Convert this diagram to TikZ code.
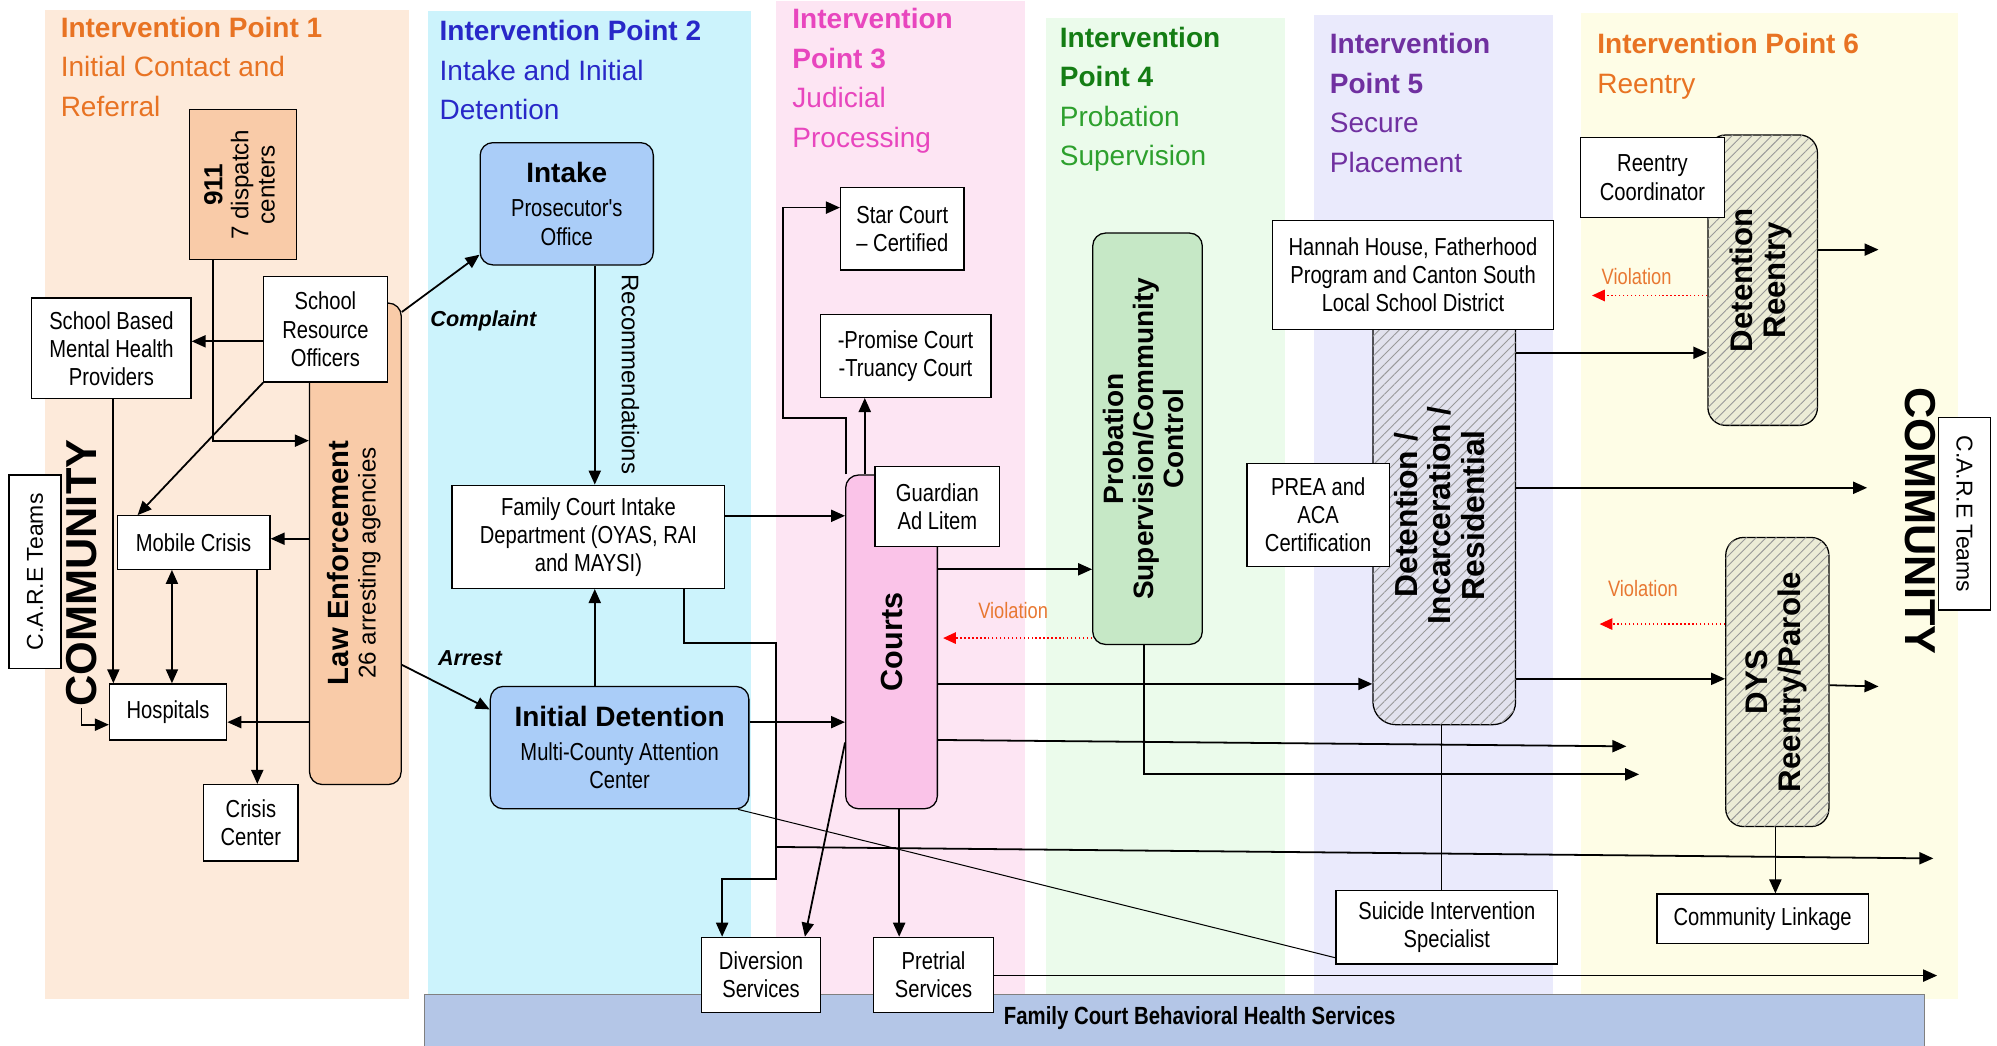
\documentclass[tikz,border=0pt]{standalone}
\usepackage{fontspec}
\setmainfont{Liberation Sans}
\newfontfamily\nar[FakeStretch=0.82]{Liberation Sans}
\usetikzlibrary{arrows.meta,patterns.meta}

\definecolor{bgone}{RGB}{253,234,218}
\definecolor{bgtwo}{RGB}{204,243,252}
\definecolor{bgthree}{RGB}{253,229,243}
\definecolor{bgfour}{RGB}{235,251,235}
\definecolor{bgfive}{RGB}{234,234,252}
\definecolor{bgsix}{RGB}{254,253,230}
\definecolor{peach}{RGB}{249,203,168}
\definecolor{skyblue}{RGB}{170,205,248}
\definecolor{courtpink}{RGB}{250,195,232}
\definecolor{probgreen}{RGB}{198,232,198}
\definecolor{hatchlav}{RGB}{226,226,238}
\definecolor{hatchyel}{RGB}{236,236,214}
\definecolor{barblue}{RGB}{180,198,231}
\definecolor{iporange}{RGB}{232,115,35}
\definecolor{ipblue}{RGB}{40,40,200}
\definecolor{ipmagenta}{RGB}{232,70,190}
\definecolor{ipgreen}{RGB}{20,125,20}
\definecolor{ipgreenlt}{RGB}{45,160,45}
\definecolor{ippurple}{RGB}{112,48,160}
\definecolor{violorange}{RGB}{232,120,50}

\newcommand\bodyfont{\nar\fontsize{19.3}{22}\selectfont}
\newcommand\vtxt[2]{\rotatebox{#1}{\begin{tabular}{@{}c@{}}#2\end{tabular}}}

\tikzset{
  wbox/.style={draw, line width=1pt, fill=white, align=center, inner sep=2pt, font=\bodyfont},
  wh/.style 2 args={minimum width=#1pt, minimum height=#2pt},
  rbox/.style={wbox, rounded corners=10pt, fill=#1},
  hatch/.style={draw, line width=1pt, rounded corners=14pt, fill=#1, inner sep=2pt,
    postaction={pattern={Lines[angle=45,distance=5.5pt,line width=0.7pt]}, pattern color=gray!80}},
  iptitle/.style={anchor=north west, align=left, inner sep=0pt, font=\fontsize{22}{31}\selectfont},
  tip/.tip={Triangle[length=11pt,width=9.5pt]},
  arr/.style={line width=1.4pt, -tip},
  arrboth/.style={line width=1.4pt, tip-tip},
  thinline/.style={line width=0.8pt},
  viol/.style={red, line width=1.1pt, dotted, -{Triangle[length=10pt,width=9pt]}},
  viotxt/.style={text=violorange, font=\nar\fontsize{17.5}{19}\selectfont, inner sep=0pt},
  edgetxt/.style={font=\bfseries\itshape\fontsize{17}{19}\selectfont, inner sep=0pt},
}

\begin{document}
\begin{tikzpicture}[x=1pt,y=-1pt]
\useasboundingbox (0,0) rectangle (1568,821);
\fill[white] (0,0) rectangle (1568,821);
\fill[bgone] (35,8) rectangle (321,784);
\fill[bgtwo] (336,9) rectangle (590,784);
\fill[bgthree] (609,1) rectangle (805,784);
\fill[bgfour] (821,14) rectangle (1009,781);
\fill[bgfive] (1032,12) rectangle (1219,781);
\fill[bgsix] (1241,10) rectangle (1537,784);

\node[iptitle, text=iporange] (ip1) at (47.5,13) {\textbf{Intervention Point 1}\\Initial Contact and\\Referral};
\node[iptitle, text=ipblue] (ip2) at (345,16) {\textbf{Intervention Point 2}\\Intake and Initial\\Detention};
\node[iptitle, text=ipmagenta] (ip3) at (622,6.5) {\textbf{Intervention}\\\textbf{Point 3}\\Judicial\\Processing};
\node[iptitle] (ip4) at (832,21) {\textcolor{ipgreen}{\textbf{Intervention}}\\\textcolor{ipgreen}{\textbf{Point 4}}\\\textcolor{ipgreenlt}{Probation}\\\textcolor{ipgreenlt}{Supervision}};
\node[iptitle, text=ippurple] (ip5) at (1044,26) {\textbf{Intervention}\\\textbf{Point 5}\\Secure\\Placement};
\node[iptitle, text=iporange] (ip6) at (1254,26) {\textbf{Intervention Point 6}\\Reentry};

\node[draw=gray, line width=0.8pt, fill=barblue, minimum width=1178pt, minimum height=42pt, inner sep=0pt,
  label={[xshift=20pt, yshift=3pt, font=\nar\bfseries\fontsize{19.5}{22}\selectfont]center:Family Court Behavioral Health Services}] (bar) at (922,802) {};

\node[wbox, wh={84}{118}, fill=peach, font=\fontsize{19}{20.5}\selectfont] (n911) at (191,145)
  {\vtxt{90}{{\bfseries\fontsize{20.5}{21}\selectfont 911}\\7 dispatch\\centers}};
\node[wbox, wh={125}{79}] (sbmh) at (87.5,273.5) {School Based\\Mental Health\\Providers};
\node[rbox=peach, wh={72}{378},
  label={[yshift=-15pt, font=\fontsize{19}{21.5}\selectfont]center:{\vtxt{90}{{\bfseries\fontsize{23}{24}\selectfont Law Enforcement}\\26 arresting agencies}}}] (law) at (279,427) {};
\node[wbox, wh={97}{83}] (sro) at (255.5,258.5) {School\\Resource\\Officers};
\node[wbox, wh={41}{152}, font=\fontsize{18}{20}\selectfont] (carel) at (27.5,449) {\rotatebox{90}{C.A.R.E Teams}};
\node[inner sep=1pt, font=\bfseries\fontsize{34}{36}\selectfont] (comml) at (64,450) {\rotatebox{90}{COMMUNITY}};
\node[wbox, wh={120}{42}] (mobile) at (152,426) {Mobile Crisis};
\node[wbox, wh={92}{44}] (hosp) at (132,559) {Hospitals};
\node[wbox, wh={74}{60}] (crisis) at (197,646) {Crisis\\Center};

\node[rbox=skyblue, wh={136}{96}] (intake) at (445,160)
  {{\normalfont\bfseries\fontsize{22}{24}\selectfont Intake}\\[5pt]Prosecutor's\\Office};
\node[font=\fontsize{18.8}{20}\selectfont, inner sep=0pt] (recom) at (495,294) {\rotatebox{-90}{Recommendations}};
\node[edgetxt] (cmpl) at (379.5,252) {Complaint};
\node[edgetxt] (arst) at (369,517) {Arrest};
\node[wbox, wh={214}{81}] (fci) at (462,421.5) {Family Court Intake\\Department (OYAS, RAI\\and MAYSI)};
\node[rbox=skyblue, wh={203}{96}] (initdet) at (486.5,587)
  {{\normalfont\bfseries\fontsize{22}{24}\selectfont Initial Detention}\\[5pt]Multi-County Attention\\Center};

\node[wbox, wh={97}{65}] (star) at (708.5,179.5) {Star Court\\– Certified};
\node[wbox, wh={134}{65}] (promise) at (711,279.5) {-Promise Court\\-Truancy Court};
\node[rbox=courtpink, wh={72}{262}, font=\bfseries\fontsize{24}{26}\selectfont] (courts) at (700,504) {\rotatebox{90}{Courts}};
\node[wbox, wh={98}{63}] (guardian) at (736,397.5) {Guardian\\Ad Litem};
\node[wbox, wh={93}{59}] (diversion) at (597.5,765.5) {Diversion\\Services};
\node[wbox, wh={94}{59}] (pretrial) at (733,765.5) {Pretrial\\Services};

\node[rbox=probgreen, wh={86}{323}, font=\bfseries\fontsize{22}{23.5}\selectfont] (prob) at (901,344.5)
  {\vtxt{90}{Probation\\Supervision/Community\\Control}};

\node[hatch=hatchlav, wh={112}{329}, rounded corners=18pt, font=\bfseries\fontsize{25}{26}\selectfont] (detinc) at (1134,404.5)
  {\vtxt{90}{Detention /\\Incarceration /\\Residential}};
\node[wbox, wh={221}{86}] (hannah) at (1109.5,216) {Hannah House, Fatherhood\\Program and Canton South\\Local School District};
\node[wbox, wh={112}{81}] (prea) at (1035,404.5) {PREA and\\ACA\\Certification};
\node[wbox, wh={174}{58}] (suicide) at (1136,728) {Suicide Intervention\\Specialist};

\node[hatch=hatchyel, wh={86}{228}, font=\bfseries\fontsize{24.5}{26}\selectfont] (detre) at (1384,220)
  {\vtxt{90}{Detention\\Reentry}};
\node[wbox, wh={113}{63}] (reco) at (1297.5,139.5) {Reentry\\Coordinator};
\node[hatch=hatchyel, wh={81}{227}, font=\bfseries\fontsize{24.5}{26}\selectfont] (dys) at (1395.5,535.5)
  {\vtxt{90}{DYS\\Reentry/Parole}};
\node[wbox, wh={166}{39}] (link) at (1384,721.5) {Community Linkage};
\node[inner sep=1pt, font=\bfseries\fontsize{34}{36}\selectfont] (commr) at (1508,409) {\rotatebox{-90}{COMMUNITY}};
\node[wbox, wh={41}{151}, font=\fontsize{18}{20}\selectfont] (carer) at (1542.5,403.5) {\rotatebox{-90}{C.A.R.E Teams}};

\node[viotxt] (vio1) at (795.5,479) {Violation};
\node[viotxt] (vio2) at (1285,217) {Violation};
\node[viotxt] (vio3) at (1290,462) {Violation};

\coordinate (out1) at (1518,674);
\coordinate (out2) at (1277,586);
\coordinate (out3) at (1287,608);
\coordinate (out4) at (1521,766);
\coordinate (out5) at (1466,383);
\coordinate (out6) at (1475,196);
\coordinate (out7) at (1475,539);
\coordinate (back2) at (1250,232);
\coordinate (back3) at (1256,490);

\draw[arr] (n911.south -| 167,0) |- (law.west |- 0,346);
\draw[arr] (sro.west |- 0,268) -- (sbmh.east |- 0,268);
\draw[arr] (sro.south west) -- (mobile.north -| 108,0);
\draw[arr] (sbmh.south -| 89,0) -- (hosp.north -| 89,0);
\draw[arr] (law.west |- 0,423) -- (mobile.east |- 0,423);
\draw[arrboth] (mobile.south -| 135,0) -- (hosp.north -| 135,0);
\draw[arr] (mobile.south -| 202,0) -- (crisis.north -| 202,0);
\draw[arr] (law.west |- 0,567) -- (hosp.east |- 0,567);
\draw[arr] (comml.south) |- (hosp.west |- 0,569);
\draw[arr] (law.east |- 0,245) -- (intake.west |- 0,200);
\draw[arr] (law.east |- 0,522) -- (initdet.west |- 0,557);

\draw[arr] (intake.south -| 467,0) -- (fci.north -| 467,0);
\draw[arr] (initdet.north -| 467,0) -- (fci.south -| 467,0);
\draw[arr] (fci.east |- 0,405) -- (courts.west |- 0,405);
\draw[arr] (initdet.east |- 0,567) -- (courts.west |- 0,567);
\draw[arr] (fci.south -| 537,0) |- (609,505) -- (609,690) -| (diversion.north -| 567,0);
\draw[arr] (609,665) -- (out1);
\draw[thinline] ([xshift=-9pt]initdet.south east) -- (suicide.west |- 0,752);

\draw[arr] ([xshift=1pt]courts.north west) |- (615,328) |- (star.west |- 0,163);
\draw[arr] (courts.north -| 679,0) -- (promise.south -| 679,0);
\draw[arr] (courts.east |- 0,447) -- (prob.west |- 0,447);
\draw[viol, shorten >=4pt] (prob.west |- 0,501) -- (courts.east |- 0,501);
\draw[arr] (courts.east |- 0,537) -- (detinc.west |- 0,537);
\draw[arr] (courts.east |- 0,581) -- (out2);
\draw[arr] (prob.south -| 898,0) |- (out3);
\draw[arr] (courts.south -| 706,0) -- (pretrial.north -| 706,0);
\draw[arr] (courts.west |- 0,583) -- (diversion.north -| 632,0);
\draw[arr] (pretrial.east |- 0,766) -- (out4);

\draw[arr] (detinc.east |- 0,277) -- (detre.west |- 0,277);
\draw[arr] (detinc.east |- 0,383) -- (out5);
\draw[arr] (detinc.east |- 0,533) -- (dys.west |- 0,533);
\draw[thinline] (detinc.south -| 1132,0) -- (suicide.north -| 1132,0);
\draw[arr] (detre.east |- 0,196) -- (out6);
\draw[viol] (detre.west |- 0,232) -- (back2);
\draw[arr] (dys.east |- 0,538) -- (out7);
\draw[viol] (dys.west |- 0,490) -- (back3);
\draw[arr] (dys.south -| 1394,0) -- (link.north -| 1394,0);
\end{tikzpicture}
\end{document}
